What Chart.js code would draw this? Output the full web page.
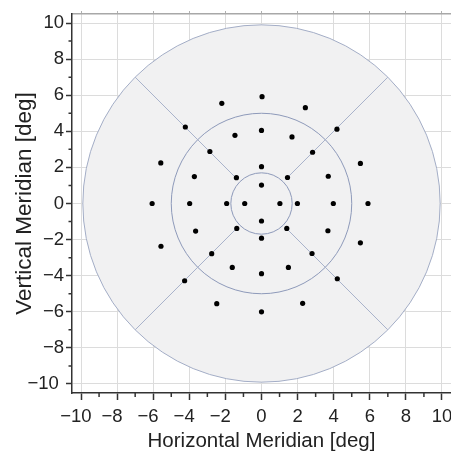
<!DOCTYPE html>
<html><head><meta charset="utf-8">
<script src="https://cdn.jsdelivr.net/npm/chart.js@4/dist/chart.umd.min.js"></script>
<style>html,body{margin:0;padding:0;background:#fff}#wrap{width:451px;height:452px;position:relative}</style>
</head><body><div id="wrap"><canvas id="c"></canvas></div>
<script>
const DOT_X = [0, 1.02, 0, -0.93,
  0, 1.44, 1.99, 1.40, 0, -1.37, -1.93, -1.39,
  0, 1.69, 2.83, 3.70, 3.98, 3.68, 2.80, 1.49, 0, -1.62, -2.76, -3.65, -3.98, -3.72, -2.86, -1.47,
  0.03, 2.43, 4.18, 5.48, 5.90, 5.48, 4.20, 2.28, 0, -2.48, -4.26, -5.57, -6.06, -5.58, -4.22, -2.20];
const DOT_Y = [1.02, 0, -0.97, 0,
  2.04, 1.44, 0, -1.38, -1.92, -1.38, 0, 1.43,
  4.05, 3.69, 2.84, 1.51, 0, -1.51, -2.77, -3.54, -3.89, -3.54, -2.78, -1.53, 0, 1.49, 2.88, 3.78,
  5.92, 5.31, 4.12, 2.22, 0, -2.18, -4.17, -5.53, -6.00, -5.55, -4.28, -2.37, 0, 2.25, 4.24, 5.55];
const MAJOR_TICKS = [-10, -8, -6, -4, -2, 0, 2, 4, 6, 8, 10];
const X_TICK_LABELS = ['\u221210\u2007', '\u22128\u2007', '\u22126\u2007', '\u22124\u2007', '\u22122\u2007', '0', '2', '4', '6', '8', '10'];
const Y_TICK_LABELS = ['\u221210\u2008', '\u22128', '\u22126', '\u22124', '\u22122', '0', '2', '4', '6', '8', '10'];
const MINOR_TICKS = [-9, -7, -5, -3, -1, 1, 3, 5, 7, 9];
const RING_RADII = [9.9, 5.0, 1.7];
const SPOKE_DIRS_X = [1, -1, -1, 1];
const SPOKE_DIRS_Y = [1, 1, -1, -1];
const SPOKE_INNER = 1.43;
const SPOKE_OUTER = 7.0;
const AXIS_MIN = -10.5, AXIS_MAX = 10.5;

const FONT = 'Liberation Sans, Arial, Helvetica, sans-serif';
const TXT = '#222222';
const RING_STROKES = ['#a3adc6', '#8e9aba', '#8e9aba'];

const ringsPlugin = {
  id: 'rings',
  beforeDatasetsDraw(chart) {
    const {ctx, chartArea} = chart;
    const x = chart.scales.x, y = chart.scales.y;
    const cx = x.getPixelForValue(0), cy = y.getPixelForValue(0);
    ctx.save();
    ctx.beginPath();
    ctx.rect(chartArea.left, chartArea.top, chartArea.width, chartArea.height);
    ctx.clip();
    RING_RADII.forEach((r, i) => {
      const rx = Math.abs(x.getPixelForValue(r) - cx);
      const ry = Math.abs(y.getPixelForValue(r) - cy);
      ctx.beginPath();
      ctx.ellipse(cx, cy, rx, ry, 0, 0, Math.PI * 2);
      if (i === 0) { ctx.fillStyle = '#f1f1f2'; ctx.fill(); }
      ctx.strokeStyle = RING_STROKES[i];
      ctx.lineWidth = 1;
      ctx.stroke();
    });
    ctx.restore();
  }
};

const minorTicksPlugin = {
  id: 'minorTicks',
  afterDraw(chart) {
    const {ctx} = chart;
    const x = chart.scales.x, y = chart.scales.y;
    ctx.save();
    ctx.strokeStyle = '#333333';
    ctx.lineWidth = 1.5;
    ctx.beginPath();
    MINOR_TICKS.forEach(v => {
      const px = x.getPixelForValue(v);
      ctx.moveTo(px, x.top);
      ctx.lineTo(px, x.top + 4);
      const py = y.getPixelForValue(v);
      ctx.moveTo(y.right, py);
      ctx.lineTo(y.right - 3.5, py);
    });
    ctx.stroke();
    ctx.restore();
  }
};

const tickSetter = a => { a.ticks = MAJOR_TICKS.map(v => ({value: v})); };

const datasets = [{
  type: 'scatter',
  label: 'targets',
  data: DOT_X.map((vx, i) => ({x: vx, y: DOT_Y[i]})),
  backgroundColor: '#000000',
  borderColor: '#000000',
  pointRadius: 2.6,
  pointBorderWidth: 0,
  showLine: false
}];
SPOKE_DIRS_X.forEach((dx, i) => {
  const dy = SPOKE_DIRS_Y[i];
  datasets.push({
    type: 'line',
    label: 'spoke' + i,
    data: [{x: dx * SPOKE_INNER, y: dy * SPOKE_INNER}, {x: dx * SPOKE_OUTER, y: dy * SPOKE_OUTER}],
    borderColor: '#a9b3cb',
    borderWidth: 1,
    pointRadius: 0,
    fill: false
  });
});

new Chart(document.getElementById('c'), {
  type: 'scatter',
  data: {datasets},
  plugins: [ringsPlugin, minorTicksPlugin],
  options: {
    responsive: true,
    maintainAspectRatio: false,
    animation: false,
    events: [],
    layout: {padding: 0, autoPadding: false},
    plugins: {legend: {display: false}, tooltip: {enabled: false}},
    scales: {
      x: {
        type: 'linear', position: 'bottom', min: AXIS_MIN, max: AXIS_MAX,
        afterBuildTicks: tickSetter,
        afterFit: a => { a.height = 59; a.paddingLeft = 0; a.paddingRight = 0; },
        ticks: {callback: v => X_TICK_LABELS[MAJOR_TICKS.indexOf(v)], font: {family: FONT, size: 18.5}, color: TXT, padding: 6, maxRotation: 0, autoSkip: false},
        grid: {color: '#dcdcdc', lineWidth: 1, tickLength: 7, tickColor: '#333333', tickWidth: 1.5},
        border: {color: '#333333', width: 1.5},
        title: {display: true, text: 'Horizontal Meridian [deg]', font: {family: FONT, size: 20.5, lineHeight: 1}, color: TXT, padding: {top: 0, bottom: 0}}
      },
      x2: {
        type: 'linear', position: 'top', min: AXIS_MIN, max: AXIS_MAX,
        afterBuildTicks: tickSetter,
        afterFit: a => { a.height = 14; a.paddingLeft = 0; a.paddingRight = 0; },
        ticks: {display: false},
        grid: {drawOnChartArea: false, tickLength: 3, tickColor: '#b0b0b0', tickWidth: 1},
        border: {color: '#a8a8a8', width: 1.5}
      },
      y: {
        type: 'linear', position: 'left', min: AXIS_MIN, max: AXIS_MAX,
        afterBuildTicks: tickSetter,
        afterFit: a => { a.width = 72; a.paddingTop = 0; a.paddingBottom = 0; },
        ticks: {callback: v => Y_TICK_LABELS[MAJOR_TICKS.indexOf(v)], font: {family: FONT, size: 18.5}, color: TXT, padding: 2, autoSkip: false},
        grid: {color: '#dcdcdc', lineWidth: 1, tickLength: 6, tickColor: '#333333', tickWidth: 1.5},
        border: {color: '#333333', width: 1.5},
        title: {display: true, text: 'Vertical Meridian [deg]', font: {family: FONT, size: 22.5, lineHeight: 1}, color: TXT, padding: {top: 14, bottom: 0}}
      }
    }
  }
});
</script>
</body></html>
